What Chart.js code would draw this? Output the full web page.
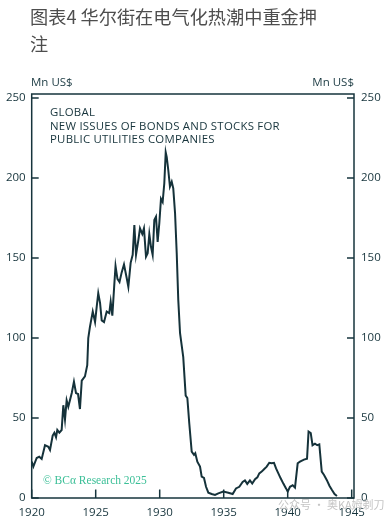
<!DOCTYPE html>
<html lang="zh">
<head>
  <meta charset="UTF-8" />
  <title>图表4</title>
  <script src="https://cdn.jsdelivr.net/npm/chart.js"></script>
  <style>
    html, body { margin: 0; padding: 0; background: #fff; }
    #wrap { position: relative; width: 391px; height: 521px; overflow: hidden; }
    #chart { position: absolute; left: 0; top: 0; }
    .txt { position: absolute; white-space: nowrap; }
    #title { left: 30px; top: 3px; font: 18.2px/27px "Noto Sans CJK SC", sans-serif; color: #4d4d4d; }
    .unit { top: 74px; font: 11.5px "Open Sans", sans-serif; color: #1b3a42; }
    #note { left: 50px; top: 105px; font: 11.4px/13.6px "Open Sans", sans-serif; letter-spacing: 0.25px; color: #17343c; }
    #credit { left: 43px; top: 474px; font: 11.5px "Liberation Serif", serif; color: #3bbf97; }
    #wm { left: 278px; top: 496px; font: 11px "Noto Sans CJK SC", sans-serif; color: #c4c4c4; }
  </style>
</head>
<body>
  <div id="wrap">
    <canvas id="chart" width="391" height="521"></canvas>
    <div class="txt" id="title">图表4 华尔街在电气化热潮中重金押<br>注</div>
    <div class="txt unit" style="left:31px">Mn US$</div>
    <div class="txt unit" style="right:37px">Mn US$</div>
    <div class="txt" id="note">GLOBAL<br>NEW ISSUES OF BONDS AND STOCKS FOR<br>PUBLIC UTILITIES COMPANIES</div>
    <div class="txt" id="credit">© BCα Research 2025</div>
    <div class="txt" id="wm">公众号 · 奥KA姆剃刀</div>
  </div>

  <script>
    // data (years as decimals, Mn US$)
    const years = [
      1920.00, 1920.13, 1920.39, 1920.59, 1920.78, 1921.04, 1921.30, 1921.43, 1921.64, 1921.77,
      1921.90, 1922.00, 1922.16, 1922.34, 1922.47, 1922.60, 1922.73, 1922.86, 1923.13, 1923.30,
      1923.46, 1923.62, 1923.77, 1923.91, 1924.16, 1924.34, 1924.42, 1924.55, 1924.77, 1924.95,
      1925.08, 1925.20, 1925.34, 1925.47, 1925.65, 1925.86, 1926.06, 1926.17, 1926.30, 1926.45,
      1926.55, 1926.70, 1926.86, 1927.03, 1927.21, 1927.41, 1927.55, 1927.73, 1927.89, 1928.02,
      1928.15, 1928.33, 1928.46, 1928.64, 1928.77, 1928.93, 1929.06, 1929.19, 1929.32, 1929.45,
      1929.58, 1929.71, 1929.84, 1929.97, 1930.10, 1930.23, 1930.36, 1930.47, 1930.55, 1930.67,
      1930.80, 1930.94, 1931.06, 1931.20, 1931.33, 1931.45, 1931.59, 1931.84, 1932.03, 1932.16,
      1932.31, 1932.50, 1932.68, 1932.78, 1932.94, 1933.15, 1933.28, 1933.46, 1933.62, 1933.80,
      1934.06, 1934.32, 1934.58, 1934.97, 1935.36, 1935.70, 1935.96, 1936.22, 1936.48, 1936.66,
      1936.84, 1937.05, 1937.23, 1937.45, 1937.63, 1937.78, 1937.97, 1938.15, 1938.36, 1938.56,
      1938.75, 1938.93, 1939.09, 1939.27, 1939.45, 1939.66, 1939.87, 1940.00, 1940.18, 1940.39,
      1940.57, 1940.78, 1940.96, 1941.27, 1941.51, 1941.63, 1941.80, 1941.94, 1942.13, 1942.31,
      1942.47, 1942.66, 1942.84, 1943.05, 1943.27, 1943.46, 1943.66, 1943.85
    ];
    const issues = [
      22.7, 19.6, 25.0, 25.8, 24.4, 33.0, 32.0, 30.0, 39.0, 40.8,
      38.0, 42.5, 40.8, 42.5, 58.0, 49.0, 61.0, 57.0, 65.6, 72.7,
      65.6, 65.0, 55.6, 73.3, 76.0, 83.0, 100.0, 107.0, 116.5, 110.0,
      119.6, 128.0, 122.0, 111.0, 110.0, 116.5, 115.6, 122.7, 114.0, 133.0,
      145.0, 137.0, 135.0, 141.0, 146.0, 138.0, 132.0, 147.0, 152.0, 170.6,
      152.0, 161.0, 168.5, 165.0, 168.5, 150.8, 153.0, 165.0, 157.0, 152.0,
      173.8, 175.8, 160.0, 171.7, 187.0, 185.0, 196.7, 216.0, 213.0, 205.0,
      194.6, 197.7, 193.5, 178.0, 153.0, 124.0, 103.0, 88.0, 64.0, 62.5,
      46.7, 29.0, 27.0, 28.0, 22.7, 19.6, 13.3, 12.5, 7.0, 3.3,
      2.5, 1.9, 2.9, 4.0, 3.3, 2.5, 6.0, 7.0, 10.0, 11.0,
      8.8, 11.0, 9.0, 11.7, 12.9, 15.4, 16.5, 18.0, 19.6, 22.0,
      21.7, 22.0, 18.5, 15.4, 12.3, 9.0, 6.0, 4.0, 7.0, 8.0,
      6.5, 21.7, 22.7, 24.0, 24.5, 41.5, 40.6, 33.0, 34.0, 33.0,
      33.5, 16.5, 14.4, 11.3, 7.5, 5.0, 2.5, 1.3
    ];
    const xTicks = [1920, 1925, 1930, 1935, 1940, 1945];
    const yTicks = [0, 50, 100, 150, 200, 250];

    const ink = '#16343c';
    const tickFont = { family: 'Open Sans', size: 11.5 };

    // box around the plot with ticks pointing inward
    const frame = {
      id: 'frame',
      afterDraw(chart) {
        const ctx = chart.ctx;
        const a = chart.chartArea;
        const x = chart.scales.x, y = chart.scales.y;
        ctx.save();
        ctx.strokeStyle = ink;
        ctx.lineWidth = 1.5;
        ctx.strokeRect(a.left, a.top, a.right - a.left, a.bottom - a.top);
        ctx.beginPath();
        yTicks.forEach(v => {
          const py = y.getPixelForValue(v);
          ctx.moveTo(a.left, py); ctx.lineTo(a.left + 7, py);
          ctx.moveTo(a.right, py); ctx.lineTo(a.right - 7, py);
        });
        xTicks.forEach(v => {
          const px = x.getPixelForValue(v);
          ctx.moveTo(px, a.bottom); ctx.lineTo(px, a.bottom - 8.5);
        });
        ctx.stroke();
        ctx.restore();
      }
    };

    new Chart(document.getElementById('chart'), {
      type: 'line',
      data: {
        datasets: [{
          data: years.map((yr, i) => ({ x: yr, y: issues[i] })),
          borderColor: '#15323a',
          borderWidth: 2,
          pointRadius: 0,
          tension: 0,
          fill: false
        }]
      },
      options: {
        responsive: false,
        animation: false,
        devicePixelRatio: 1,
        layout: { padding: { top: 94, left: 0, right: 0, bottom: 0 } },
        plugins: { legend: { display: false }, tooltip: { enabled: false } },
        scales: {
          x: {
            type: 'linear',
            min: 1920,
            max: 1945.18,
            grid: { display: false, drawTicks: false },
            border: { display: false },
            afterBuildTicks: s => { s.ticks = xTicks.map(v => ({ value: v })); },
            afterFit: s => { s.height = 23; },
            ticks: { color: ink, font: tickFont, padding: 8, maxRotation: 0, callback: v => String(v) }
          },
          y: {
            position: 'left',
            min: 0,
            max: 252.5,
            grid: { display: false, drawTicks: false },
            border: { display: false },
            afterBuildTicks: s => { s.ticks = yTicks.map(v => ({ value: v })); },
            afterFit: s => { s.width = 31.7; },
            ticks: { color: ink, font: tickFont, padding: 6 }
          },
          y2: {
            position: 'right',
            min: 0,
            max: 252.5,
            grid: { display: false, drawTicks: false },
            border: { display: false },
            afterBuildTicks: s => { s.ticks = yTicks.map(v => ({ value: v })); },
            afterFit: s => { s.width = 37; },
            ticks: { color: ink, font: tickFont, padding: 7 }
          }
        }
      },
      plugins: [frame]
    });
  </script>
</body>
</html>
